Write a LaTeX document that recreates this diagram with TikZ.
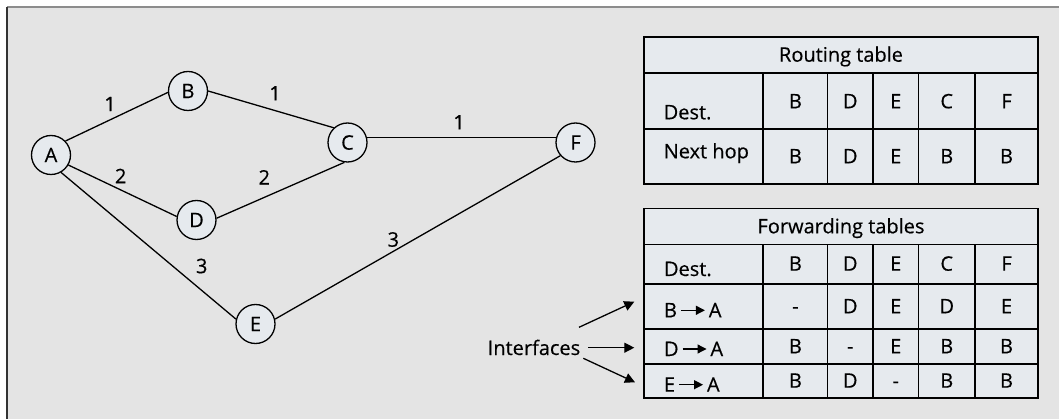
\documentclass[tikz,border=0pt]{standalone}
\usepackage{fontspec}
\setmainfont[FakeBold=0.4]{Open Sans}
\usetikzlibrary{arrows.meta}
\definecolor{bg}{HTML}{E4E4E4}
\definecolor{cellfill}{HTML}{E6EAEE}
\newcommand{\harr}{\tikz[baseline=-7pt]\draw[line width=1.2pt,-{Triangle[length=9pt,width=9pt]}] (0pt,0pt)--(24pt,0pt);}
\begin{document}
\begin{tikzpicture}[x=1pt,y=-1pt, font=\fontsize{20}{24}\selectfont,
  vertex/.style={circle,draw,line width=1.3pt,fill=cellfill,minimum size=39pt,inner sep=0pt},
  edge/.style={line width=1.3pt},
  wlabel/.style={inner sep=0pt},
  gridline/.style={line width=1.8pt},
  txt/.style={inner sep=0pt,anchor=base},
  rowlab/.style={inner sep=0pt,anchor=base west},
  ptr/.style={line width=1.3pt,-{Triangle[length=10pt,width=10pt]}}]
\useasboundingbox (0,0) rectangle (1059,419);
\fill[bg] (7,7) rectangle (1059,419);
\draw[line width=2pt,black!45] (7,7)--(1059,7);
\draw[line width=2pt,black!80] (7,7)--(7,419);

% graph
\node[vertex] (A) at (51,155) {A};
\node[vertex] (B) at (188,91) {B};
\node[vertex] (C) at (347.5,142.5) {C};
\node[vertex] (D) at (196.5,220) {D};
\node[vertex] (E) at (255.5,324) {E};
\node[vertex] (F) at (575.5,142.5) {F};
\draw[edge] (A.44) -- (B.184);
\draw[edge] (B.0) -- (C.133);
\draw[edge] (C.15) -- (F.165);
\draw[edge] (A.-30) -- (D.170);
\draw[edge] (D.5) -- (C.261);
\draw[edge] (A.-60) -- (E.166);
\draw[edge] (E.14) -- (F.221);
\node[wlabel] (wab) at (110,104) {1};
\node[wlabel] (wbc) at (275,93.3) {1};
\node[wlabel] (wcf) at (459,122.3) {1};
\node[wlabel] (wad) at (120.7,176) {2};
\node[wlabel] (wdc) at (264.3,177.3) {2};
\node[wlabel] (wae) at (201.7,266) {3};
\node[wlabel] (wef) at (393.3,239.5) {3};

% routing table
\filldraw[fill=cellfill,draw=black,gridline] (643.7,36.7) rectangle (1038,184.2);
\draw[gridline] (643.7,72.7) -- (1038,72.7);
\draw[gridline] (643.7,128.8) -- (1038,128.8);
\foreach \x in {763.3,827.5,873,918.5,975} \draw[gridline] (\x,72.7) -- (\x,184.2);
\node[txt] (rtitle) at (841,61.7) {Routing table};
\node[rowlab] (rdest) at (663.5,119.3) {Dest.};
\node[rowlab] (rnext) at (663.5,158.3) {Next hop};
\foreach \v [count=\i] in {B,D,E,C,F} {
  \pgfmathsetmacro{\cx}{{795.4,850.25,895.75,946.75,1006.5}[\i-1]}
  \node[txt] (rh\i) at (\cx,108.3) {\v};
}
\foreach \v [count=\i] in {B,D,E,B,B} {
  \pgfmathsetmacro{\cx}{{795.4,850.25,895.75,946.75,1006.5}[\i-1]}
  \node[txt] (rn\i) at (\cx,163.3) {\v};
}

% forwarding tables
\filldraw[fill=cellfill,draw=black,gridline] (643.7,208.5) rectangle (1038,398);
\foreach \y in {244.5,284,329.3,364} \draw[gridline] (643.7,\y) -- (1038,\y);
\foreach \x in {763.3,827.5,873,918.5,975} \draw[gridline] (\x,244.5) -- (\x,398);
\node[txt] (ftitle) at (841,233.3) {Forwarding tables};
\node[rowlab] (fdest) at (663.8,276) {Dest.};
\node[rowlab] (fba) at (663.8,317.3) {B\,\harr\,A};
\node[rowlab] (fda) at (663.8,356) {D\,\harr\,A};
\node[rowlab] (fea) at (663.8,391.7) {E\,\harr\,A};
\foreach \v [count=\i] in {B,D,E,C,F} {
  \pgfmathsetmacro{\cx}{{795.4,850.25,895.75,946.75,1006.5}[\i-1]}
  \node[txt] (fh\i) at (\cx,270.7) {\v};
}
\foreach \v [count=\i] in {-,D,E,D,E} {
  \pgfmathsetmacro{\cx}{{795.4,850.25,895.75,946.75,1006.5}[\i-1]}
  \node[txt] (fb\i) at (\cx,313.3) {\v};
}
\foreach \v [count=\i] in {B,-,E,B,B} {
  \pgfmathsetmacro{\cx}{{795.4,850.25,895.75,946.75,1006.5}[\i-1]}
  \node[txt] (fd\i) at (\cx,353.3) {\v};
}
\foreach \v [count=\i] in {B,D,-,B,B} {
  \pgfmathsetmacro{\cx}{{795.4,850.25,895.75,946.75,1006.5}[\i-1]}
  \node[txt] (fe\i) at (\cx,387.7) {\v};
}

% interfaces
\node[txt] (intf) at (534,355) {Interfaces};
\coordinate (s1) at (579,327.3);
\coordinate (s2) at (588.3,347.7);
\coordinate (s3) at (583.3,358.3);
\coordinate (t1) at (634.3,301.7);
\coordinate (t2) at (634.3,347.7);
\coordinate (t3) at (635,382.3);
\draw[ptr] (s1) -- (t1);
\draw[ptr] (s2) -- (t2);
\draw[ptr] (s3) -- (t3);
\end{tikzpicture}
\end{document}
